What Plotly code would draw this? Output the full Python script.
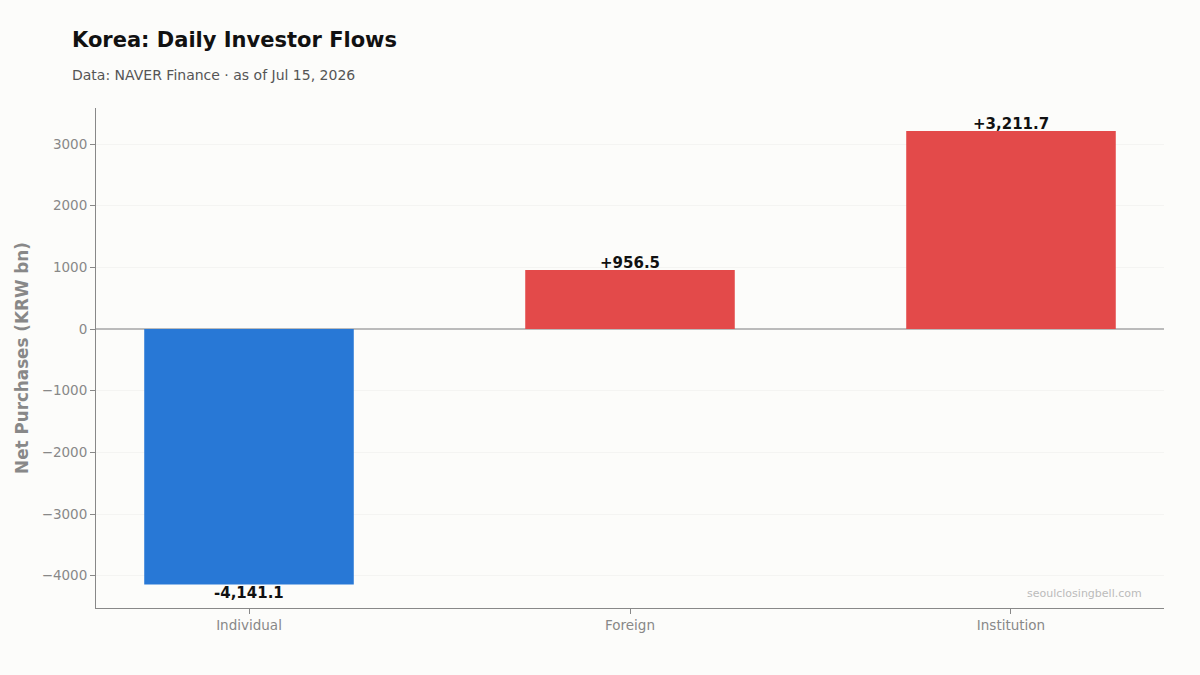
import plotly.graph_objects as go

categories = ["Individual", "Foreign", "Institution"]
values = [-4141.1, 956.5, 3211.7]
labels = ["-4,141.1", "+956.5", "+3,211.7"]
colors = ["#2878d6" if v < 0 else "#e34a4a" for v in values]

fig = go.Figure()
fig.add_trace(go.Bar(x=list(range(len(categories))), y=values, width=0.55,
                     marker=dict(color=colors, line=dict(width=0)),
                     hoverinfo="skip"))

for i, (v, t) in enumerate(zip(values, labels)):
    fig.add_annotation(x=i, y=v, text="<b>" + t + "</b>", showarrow=False,
                       yanchor="bottom" if v >= 0 else "top",
                       yshift=-4 if v >= 0 else 2,
                       font=dict(family="DejaVu Sans", size=15, color="#111111"))

fig.add_annotation(xref="paper", yref="paper", x=(1144-96)/1068, y=0.03, text="seoulclosingbell.com",
                   showarrow=False, xanchor="right", yanchor="middle",
                   font=dict(family="DejaVu Sans", size=11, color="#bbbbbb"))

fig.update_layout(
    width=1200, height=675,
    paper_bgcolor="#fcfcfa", plot_bgcolor="#fcfcfa",
    margin=dict(l=96, r=36, t=108, b=67),
    showlegend=False,
    font=dict(family="DejaVu Sans", color="#888888"),
    title=dict(text="<b>Korea: Daily Investor Flows</b>", x=72/1200, xanchor="left",
               y=1-40/675, yanchor="middle",
               font=dict(family="DejaVu Sans", size=21, color="#111111")),
)
fig.add_annotation(xref="paper", yref="paper", x=(70-96)/1068, y=1+(108-75)/500,
                   text="Data: NAVER Finance · as of Jul 15, 2026", showarrow=False,
                   xanchor="left", yanchor="middle",
                   font=dict(family="DejaVu Sans", size=14, color="#555555"))

fig.update_xaxes(range=[-0.4016, 2.4016], tickvals=list(range(len(categories))),
                 ticktext=categories, showline=True, linecolor="#888888", linewidth=1,
                 ticks="outside", ticklen=5, tickcolor="#888888", showgrid=False,
                 zeroline=False, tickfont=dict(size=13.5, color="#888888"))
fig.update_yaxes(range=[-4524, 3584], tickvals=[-4000, -3000, -2000, -1000, 0, 1000, 2000, 3000],
                 ticktext=["−4000", "−3000", "−2000", "−1000", "0", "1000", "2000", "3000"],
                 showline=True, linecolor="#888888", linewidth=1,
                 ticks="outside", ticklen=5, tickcolor="#888888",
                 showgrid=True, gridcolor="#f4f4f2", gridwidth=1,
                 zeroline=True, zerolinecolor="#bbbbbb", zerolinewidth=1.5,
                 tickfont=dict(size=13.5, color="#888888"),
                 title=dict(text="<b>Net Purchases (KRW bn)</b>", standoff=8,
                            font=dict(size=16.8, color="#888888")))

fig.write_html("out.html")
